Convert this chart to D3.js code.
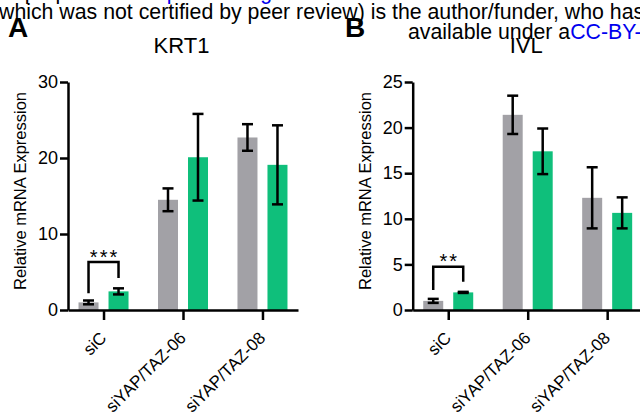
<!DOCTYPE html>
<html>
<head>
<meta charset="utf-8">
<script src="https://cdn.jsdelivr.net/npm/d3@7"></script>
<style>
  body { margin: 0; background: #fff; }
  svg { display: block; font-family: "Liberation Sans", Arial, sans-serif; }
</style>
</head>
<body>
<div id="chart"></div>
<script>
// categories and series
const categories = ['siC', 'siYAP/TAZ-06', 'siYAP/TAZ-08'];
const series = ['grey', 'green'];

// KRT1 (panel A)
const krt1Grey = [1.0, 14.5, 22.7];
const krt1GreyErr = [0.25, 1.5, 1.75];
const krt1Green = [2.45, 20.1, 19.1];
const krt1GreenErr = [0.4, 5.7, 5.2];
const krt1Ticks = [0, 10, 20, 30];

// IVL (panel B)
const ivlGrey = [1.0, 21.4, 12.3];
const ivlGreyErr = [0.22, 2.1, 3.35];
const ivlGreen = [1.93, 17.4, 10.65];
const ivlGreenErr = [0.06, 2.5, 1.7];
const ivlTicks = [0, 5, 10, 15, 20, 25];

// significance brackets: [top, left leg end, right leg end]
const krt1Sig = [6.3, 2.2, 4.2];
const ivlSig = [4.75, 2.2, 3.1];

const width = 640, height = 419;
const colors = { grey: '#a2a1a6', green: '#0fbf7b' };

const svg = d3.select('#chart').append('svg')
  .attr('width', width).attr('height', height);

// bioRxiv header text (cropped at top)
svg.append('text')
  .attr('x', -51).attr('y', -1)
  .attr('font-size', 21.3)
  .text('bioRxiv preprint doi: ')
  .append('tspan').attr('fill', '#0000ee').text('https://doi.org/10.1101/2021.02.11.430715');
svg.append('text')
  .attr('x', -1).attr('y', 19)
  .attr('font-size', 21.3)
  .text('which was not certified by peer review) is the author/funder, who has granted bioRxiv a license');
svg.append('text')
  .attr('x', 408).attr('y', 39)
  .attr('font-size', 21.3)
  .text('available under a')
  .append('tspan').attr('fill', '#0000ee').text('CC-BY-NC-ND 4.0 International license');

function drawPanel(opt) {
  const g = svg.append('g').attr('transform', `translate(${opt.dx},0)`);
  const y0 = 310, yTop = 82;
  const left = 68, right = 298;

  const x = d3.scalePoint().domain(categories).range([left, right]).padding(0.447);
  const xs = d3.scaleBand().domain(series).range([-25, 25]).paddingInner(1 / 3);
  const y = d3.scaleLinear().domain([0, opt.ymax]).range([y0, yTop]);

  // panel letter and title
  svg.append('text').attr('x', opt.letterX).attr('y', 37)
    .attr('font-size', 28).attr('font-weight', 'bold').text(opt.letter);
  g.append('text').attr('x', 181.5).attr('y', 53)
    .attr('font-size', 22).attr('text-anchor', 'middle').text(opt.title);

  const rows = [];
  categories.forEach((c, i) => {
    rows.push({ cat: c, s: 'grey', v: opt.grey[i], e: opt.greyErr[i] });
    rows.push({ cat: c, s: 'green', v: opt.green[i], e: opt.greenErr[i] });
  });
  const cx = d => x(d.cat) + xs(d.s) + xs.bandwidth() / 2;

  // bars
  g.selectAll('rect.bar').data(rows).enter().append('rect')
    .attr('class', 'bar')
    .attr('x', d => x(d.cat) + xs(d.s))
    .attr('width', xs.bandwidth())
    .attr('y', d => y(d.v))
    .attr('height', d => y0 - y(d.v))
    .attr('fill', d => colors[d.s]);

  // error bars
  const eb = g.selectAll('g.err').data(rows).enter().append('g').attr('class', 'err')
    .attr('stroke', '#000').attr('stroke-width', 2.5);
  eb.append('line')
    .attr('x1', cx).attr('x2', cx)
    .attr('y1', d => y(d.v - d.e)).attr('y2', d => y(d.v + d.e));
  eb.append('line')
    .attr('x1', d => cx(d) - 5.5).attr('x2', d => cx(d) + 5.5)
    .attr('y1', d => y(d.v + d.e)).attr('y2', d => y(d.v + d.e));
  eb.append('line')
    .attr('x1', d => cx(d) - 5.5).attr('x2', d => cx(d) + 5.5)
    .attr('y1', d => y(d.v - d.e)).attr('y2', d => y(d.v - d.e));

  // axes
  const yAxis = g.append('g').attr('transform', `translate(${left},0)`)
    .call(d3.axisLeft(y).tickValues(opt.ticks).tickSize(8).tickSizeOuter(0).tickPadding(2));
  const xAxis = g.append('g').attr('transform', `translate(0,${y0})`)
    .call(d3.axisBottom(x).tickSize(10).tickSizeOuter(0).tickFormat(() => ''));
  [yAxis, xAxis].forEach(a => {
    a.select('.domain').attr('stroke-width', 2.5);
    a.selectAll('.tick line').attr('stroke-width', 2.5);
  });
  yAxis.selectAll('text').attr('font-size', 18).attr('fill', '#000')
    .attr('font-family', '"Liberation Sans", Arial, sans-serif');

  // rotated category labels
  g.selectAll('text.cat').data(categories).enter().append('text')
    .attr('class', 'cat')
    .attr('transform', d => `translate(${x(d) + 4},339) rotate(-45)`)
    .attr('text-anchor', 'end')
    .attr('font-size', 17)
    .text(d => d);

  // y axis title
  g.append('text')
    .attr('transform', `translate(26,${(y0 + 82) / 2 - 5}) rotate(-90)`)
    .attr('text-anchor', 'middle')
    .attr('font-size', 16.5)
    .text('Relative mRNA Expression');

  // significance bracket
  const x1 = cx(rows[0]), x2 = cx(rows[1]);
  g.append('path')
    .attr('d', `M${x1},${y(opt.sig[1])}V${y(opt.sig[0])}H${x2}V${y(opt.sig[2])}`)
    .attr('fill', 'none').attr('stroke', '#000').attr('stroke-width', 2.5);
  g.append('text')
    .attr('x', (x1 + x2) / 2 + 1).attr('y', y(opt.sig[0]) + 1.5)
    .attr('text-anchor', 'middle')
    .attr('font-size', 20).attr('letter-spacing', 2)
    .text(opt.stars);
}

drawPanel({ dx: 0, letterX: 8, letter: 'A', title: 'KRT1', ymax: 30, ticks: krt1Ticks,
  grey: krt1Grey, greyErr: krt1GreyErr, green: krt1Green, greenErr: krt1GreenErr,
  sig: krt1Sig, stars: '***' });
drawPanel({ dx: 344.7, letterX: 345, letter: 'B', title: 'IVL', ymax: 25, ticks: ivlTicks,
  grey: ivlGrey, greyErr: ivlGreyErr, green: ivlGreen, greenErr: ivlGreenErr,
  sig: ivlSig, stars: '**' });
</script>
</body>
</html>
